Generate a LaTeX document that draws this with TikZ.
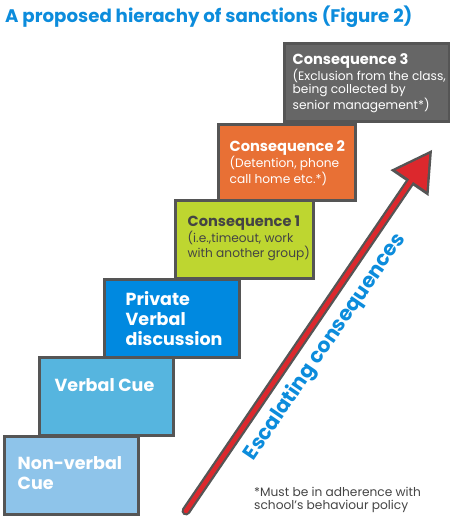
\documentclass[tikz,border=0pt]{standalone}
\usepackage{fontspec}
\setmainfont{Poppins}
\usepackage{xcolor}
\usepackage{tikz}
\usetikzlibrary{arrows.meta,positioning,calc}

\definecolor{titleblue}{RGB}{12,140,220}
\definecolor{edgegray}{RGB}{85,85,85}
\definecolor{textgray}{RGB}{68,68,68}
\definecolor{nvblue}{RGB}{142,196,234}
\definecolor{vblue}{RGB}{86,181,223}
\definecolor{pvblue}{RGB}{0,137,224}
\definecolor{conslime}{RGB}{190,214,48}
\definecolor{consorange}{RGB}{232,112,53}
\definecolor{consgray}{RGB}{102,102,102}
\definecolor{arrowred}{RGB}{220,40,45}

\begin{document}
\begin{tikzpicture}[x=1pt, y=1pt,
    stepbox/.style={draw=edgegray, line width=3pt, rectangle, minimum height=78pt, inner sep=0pt},
    steptext/.style={inner sep=0pt, align=left, text=white},
    bigfont/.style={font=\bfseries\fontsize{17.5}{20}\selectfont},
    subfont/.style={font=\fontsize{12.2}{13.5}\selectfont}]
    \useasboundingbox (0,0) rectangle (450,531);

    % Title
    \node[anchor=west, inner sep=0pt, text=titleblue, font=\bfseries\fontsize{18.2}{21}\selectfont] (title) at (5,514) {A proposed hierachy of sanctions (Figure 2)};

    % Consequence 3
    \node[stepbox, fill=consgray, minimum width=165pt] (cons3) at (366.5,448) {};
    \node[steptext, subfont, right=10pt of cons3.west] (cons3txt) {
        {\bfseries\fontsize{14.6}{15}\selectfont Consequence 3}\\
        (Exclusion from the class,\\
        being collected by\\
        senior management*)
    };

    % Consequence 2
    \node[stepbox, fill=consorange, minimum width=137pt, minimum height=76pt] (cons2) at (286.5,368) {};
    \node[steptext, subfont, right=13pt of cons2.west] (cons2txt) {
        {\bfseries\fontsize{14.6}{15}\selectfont Consequence 2}\\
        (Detention, phone\\
        call home etc.*)
    };

    % Consequence 1
    \node[stepbox, fill=conslime, minimum width=138pt] (cons1) at (244,291) {};
    \node[steptext, subfont, text=textgray, right=14pt of cons1.west, yshift=2pt] (cons1txt) {
        {\bfseries\fontsize{14.6}{15}\selectfont Consequence 1}\\
        (i.e.,timeout, work\\
        with another group)
    };

    % Private Verbal discussion
    \node[stepbox, fill=pvblue, minimum width=135pt] (private) at (171.5,212) {};
    \node[steptext, bigfont, right=23pt of private.west] (privatetxt) {
        Private\\
        Verbal\\
        discussion
    };

    % Verbal Cue
    \node[stepbox, fill=vblue, minimum width=134pt] (verbal) at (106,134) {};
    \node[steptext, bigfont, right=17pt of verbal.west, yshift=12pt] (verbaltxt) {Verbal Cue};

    % Non-verbal Cue
    \node[stepbox, fill=nvblue, minimum width=134pt] (nonverbal) at (71,55) {};
    \node[steptext, bigfont, right=15pt of nonverbal.west, yshift=3pt] (nonverbaltxt) {
        Non-verbal\\
        Cue
    };

    % Escalation arrow
    \coordinate (tail) at (186,20);
    \coordinate (tip) at (432,381);
    \draw[edgegray, line width=9pt, line cap=round, -{Triangle[length=40pt, width=46pt, line width=0pt]}] (tail) -- (tip);
    \draw[arrowred, line width=4.5pt, line cap=round, shorten >=5pt, -{Triangle[length=32pt, width=37pt, line width=0pt]}] (tail) -- (tip)
        node[pos=0.49, sloped, below=6pt, text=titleblue, font=\bfseries\fontsize{20.5}{22}\selectfont] (esc) {Escalating consequences};

    % Footnote
    \node[anchor=north west, align=left, inner sep=0pt, text=textgray, font=\fontsize{12.2}{13.5}\selectfont] (note) at (254,44) {*Must be in adherence with\\school's behaviour policy};
\end{tikzpicture}
\end{document}
